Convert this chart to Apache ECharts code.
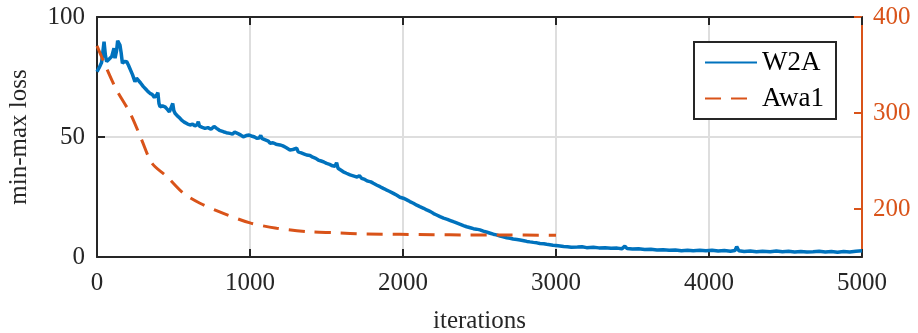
<!DOCTYPE html>
<html>
<head>
<meta charset="utf-8">
<script src="https://cdn.jsdelivr.net/npm/echarts@6/dist/echarts.min.js"></script>
<style>html,body{margin:0;padding:0;background:#fff;}#c{width:918px;height:333px;}</style>
</head>
<body>
<div id="c"></div>
<script>
var xTicks = [0, 1000, 2000, 3000, 4000, 5000];
var leftTicks = [0, 50, 100];
var rightTicks = [200, 300, 400];

var w2aIters = [0,15,30,46,55,63,80,96,111,118,128,135,142,150,158,166,180,194,205,216,232,248,258,270,285,303,318,332,346,360,375,390,398,405,412,428,444,460,473,485,495,502,510,525,540,553,570,590,608,625,640,655,662,670,688,706,725,745,765,782,800,813,826,845,869,885,900,913,925,940,956,975,995,1000,1015,1030,1044,1060,1070,1080,1100,1120,1131,1150,1170,1196,1215,1235,1261,1280,1305,1315,1335,1355,1370,1392,1410,1430,1446,1465,1485,1501,1520,1540,1555,1566,1575,1588,1610,1630,1654,1675,1700,1715,1730,1750,1770,1790,1806,1830,1850,1871,1890,1910,1937,1960,1980,2002,2025,2045,2068,2090,2110,2135,2155,2180,2200,2220,2242,2265,2290,2310,2329,2350,2375,2395,2416,2440,2460,2480,2503,2525,2550,2570,2590,2610,2635,2655,2678,2700,2720,2745,2765,2790,2810,2830,2852,2875,2895,2920,2939,2960,2980,3000,3026,3050,3075,3100,3113,3140,3170,3200,3244,3280,3320,3360,3400,3430,3450,3465,3500,3540,3580,3620,3660,3700,3740,3780,3820,3860,3897,3940,3980,4020,4060,4100,4140,4170,4181,4195,4230,4270,4310,4350,4400,4440,4480,4520,4560,4600,4640,4680,4720,4760,4800,4840,4880,4920,4960,5000];
var w2aLoss = [77.2,79,81,89.7,84,81.4,82.5,83.5,87,82.8,86,90.1,89.5,88.3,85,80.7,81.5,81.4,80,79.3,76,73,74.5,73.7,72.5,71,70,69,68.2,67.8,66.5,67.5,68.5,64,62.6,63,62.6,61.5,60.5,61,64,61,59.9,58.8,58,57,56.2,55.5,55,55.4,54.6,55.2,56.4,54.5,54,53.6,53.9,53.2,54.4,53.6,52.8,53.4,52.2,51.8,51.5,51.2,52,52.2,51.3,50.8,50.1,50.6,50.8,51.5,50.3,50,49.5,49.6,50.6,49.3,48.8,48.3,47.4,47.6,47,46.7,46.3,45.6,44.6,44.8,45.3,43.8,43.4,42.9,42.5,42.3,41.6,41.1,40.4,40,39.5,39,38.6,38,37.8,39.3,37,36.3,35.5,34.9,34.2,33.8,33.3,33.9,32.8,32.3,31.6,31.3,30.7,29.9,29.3,28.6,28,27.4,26.5,25.7,24.9,24.5,23.8,23.1,22.4,21.6,21,20.3,19.6,18.9,18.1,17.5,16.8,16.2,15.7,15.2,14.7,14.2,13.6,13.1,12.6,12.2,11.8,11.6,11.3,10.8,10.3,9.9,9.5,9.2,8.7,8.4,8,7.8,7.5,7.3,7.1,6.8,6.5,6.3,6.1,5.9,5.6,5.5,5.3,5.1,4.9,4.8,4.6,4.4,4.3,4.1,4,4.2,4.3,3.9,4.1,3.8,3.9,3.6,3.7,3.4,4.5,3.5,3.3,3.4,3.1,3.2,2.9,3.0,2.8,2.9,2.6,2.8,2.6,2.8,2.6,2.8,2.5,2.7,2.4,2.7,4.3,2.6,2.3,2.5,2.2,2.4,2.2,2.5,2.2,2.4,2.1,2.3,2.1,2.2,2.4,2.1,2.3,2.0,2.3,2.1,2.4,2.6];

var awaIters = [0,118,216,292,346,380,455,564,673,826,1000,1174,1370,1545,1762,1980,2198,2416,2634,3000];
var awaLoss = [370,327,300,272,251,244,234,216.5,206,195.5,185.5,180,176.5,175.3,174,173.6,173.2,173,173,172.6];

function pairs(xs, ys){ var out=[]; for(var i=0;i<xs.length;i++){ out.push([xs[i], ys[i]]); } return out; }

var FONT = 'Liberation Serif';
var DARK = '#262626';
var BLUE = '#0072BD';
var ORANGE = '#D95319';
var GRIDC = '#dedede';
function plain(v){ return String(v); }

var chart = echarts.init(document.getElementById('c'), null, {renderer:'canvas'});
chart.setOption({
  animation: false,
  backgroundColor: '#fff',
  grid: {left: 97, right: 56, top: 17, bottom: 76, containLabel: false, outerBoundsMode: 'none'},
  legend: {
    orient: 'vertical', left: 694, top: 42,
    padding: [7, 12, 7, 10], itemGap: 9, itemWidth: 52, itemHeight: 14,
    borderColor: DARK, borderWidth: 2, backgroundColor: '#fff',
    itemStyle: {opacity: 0},
    textStyle: {fontFamily: FONT, fontSize: 27, color: '#000'},
    data: ['W2A', 'Awa1']
  },
  xAxis: [{
    type: 'value', min: xTicks[0], max: xTicks[xTicks.length-1], interval: 1000,
    name: 'iterations', nameLocation: 'middle', nameGap: 52,
    nameTextStyle: {fontFamily: FONT, fontSize: 25, color: DARK},
    axisLine: {show: true, onZero: false, lineStyle: {color: DARK, width: 2}},
    axisTick: {show: true, inside: true, length: 8, lineStyle: {color: DARK, width: 2}},
    axisLabel: {fontFamily: FONT, fontSize: 25, color: DARK, margin: 14, formatter: plain},
    splitLine: {show: true, lineStyle: {color: GRIDC, width: 2}}
  }, {
    type: 'value', position: 'top', min: xTicks[0], max: xTicks[xTicks.length-1], interval: 1000,
    axisLine: {show: true, onZero: false, lineStyle: {color: DARK, width: 2}},
    axisTick: {show: true, inside: true, length: 8, lineStyle: {color: DARK, width: 2}},
    axisLabel: {show: false}, splitLine: {show: false}
  }],
  yAxis: [{
    type: 'value', position: 'left', min: leftTicks[0], max: leftTicks[leftTicks.length-1], interval: 50,
    name: 'min-max loss', nameLocation: 'middle', nameGap: 65,
    nameTextStyle: {fontFamily: FONT, fontSize: 25, color: DARK},
    axisLine: {show: true, onZero: false, lineStyle: {color: DARK, width: 2}},
    axisTick: {show: true, inside: true, length: 8, lineStyle: {color: DARK, width: 2}},
    axisLabel: {fontFamily: FONT, fontSize: 25, color: DARK, margin: 12, formatter: plain},
    splitLine: {show: true, lineStyle: {color: GRIDC, width: 2}}
  }, {
    type: 'value', position: 'right', min: 150, max: 400,
    axisLine: {show: true, onZero: false, lineStyle: {color: ORANGE, width: 2}},
    axisTick: {show: true, inside: true, length: 8, customValues: rightTicks, lineStyle: {color: ORANGE, width: 2}},
    axisLabel: {fontFamily: FONT, fontSize: 25, color: ORANGE, margin: 11, customValues: rightTicks, formatter: plain},
    splitLine: {show: false}
  }],
  series: [{
    name: 'W2A', type: 'line', xAxisIndex: 0, yAxisIndex: 0,
    data: pairs(w2aIters, w2aLoss), symbol: 'none', showSymbol: false,
    lineStyle: {color: BLUE, width: 3.5}, itemStyle: {color: BLUE}
  }, {
    name: 'Awa1', type: 'line', xAxisIndex: 0, yAxisIndex: 1, smooth: 0.3,
    data: pairs(awaIters, awaLoss), symbol: 'none', showSymbol: false,
    lineStyle: {color: ORANGE, width: 3, type: [16, 10]}, itemStyle: {color: ORANGE}
  }]
});
</script>
</body>
</html>
